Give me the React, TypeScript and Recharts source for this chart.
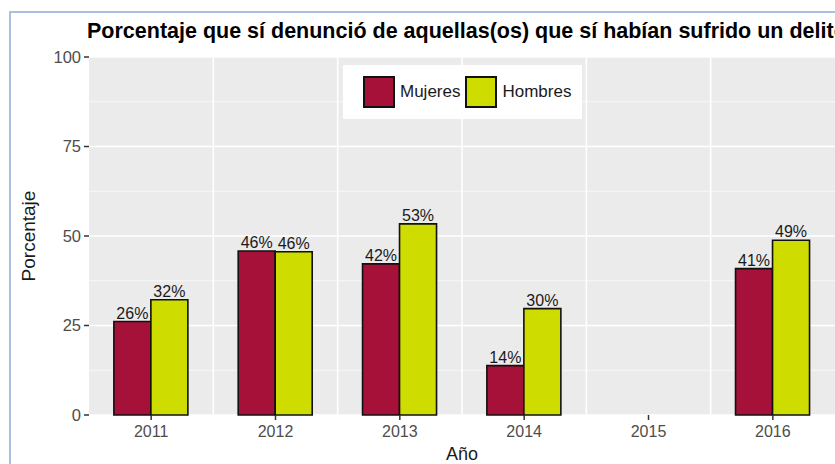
import React from "react";
import {
  BarChart,
  Bar,
  XAxis,
  YAxis,
  CartesianGrid,
  Legend,
  LabelList,
  Label,
} from "recharts";

const years = ["2011", "2012", "2013", "2014", "2015", "2016"];
const mujeres = [26.1, 45.8, 42.2, 13.8, null, 40.9];
const hombres = [32.2, 45.6, 53.4, 29.7, null, 48.8];
const yTicks = [0, 25, 50, 75, 100];
const yMinor = [12.5, 37.5, 62.5, 87.5];
const yMax = 100;

const COLOR_M = "#A51139";
const COLOR_H = "#CFDC00";
const FONT = "'Liberation Sans', Arial, sans-serif";

const data = years.map((year, i) => ({
  year,
  Mujeres: mujeres[i],
  Hombres: hombres[i],
}));

const pct = (v: any) => (v == null ? "" : `${Math.round(Number(v))}%`);

// value -> pixel inside the plot area (linear 0..yMax domain)
const yPos = (offset: any, v: number) => offset.top + offset.height * (1 - v / yMax);

const LegendBox = () => (
  <div
    style={{
      background: "#fff",
      width: 239,
      height: 54,
      boxSizing: "border-box",
      paddingLeft: 20,
      display: "flex",
      alignItems: "center",
      fontFamily: FONT,
      fontSize: 17,
      color: "#1a1a1a",
    }}
  >
    {[
      { name: "Mujeres", color: COLOR_M },
      { name: "Hombres", color: COLOR_H },
    ].map((item) => (
      <div key={item.name} style={{ display: "flex", alignItems: "center" }}>
        <span
          style={{
            width: 32,
            height: 32,
            boxSizing: "border-box",
            background: item.color,
            border: "2px solid #111",
            marginRight: 5,
          }}
        />
        <span style={{ marginRight: 5 }}>{item.name}</span>
      </div>
    ))}
  </div>
);

const App: React.FC = () => {
  return (
    <div style={{ position: "relative", width: 835, height: 464, background: "#fff", overflow: "hidden" }}>
      <style>{"body{margin:0}"}</style>
      {/* light blue frame of the screenshot */}
      <div
        style={{
          position: "absolute",
          left: 9,
          top: 11,
          width: 900,
          height: 500,
          borderLeft: "2px solid #A9C0DE",
          borderTop: "2px solid #A9C0DE",
        }}
      />
      <div
        style={{
          position: "absolute",
          left: 87,
          top: 19,
          lineHeight: "24px",
          whiteSpace: "nowrap",
          fontFamily: FONT,
          fontWeight: "bold",
          fontSize: 21.5,
          color: "#000",
        }}
      >
        Porcentaje que sí denunció de aquellas(os) que sí habían sufrido un delito
      </div>
      <BarChart
        width={835}
        height={464}
        data={data}
        margin={{ top: 57, right: 0, bottom: 9, left: 39 }}
        barCategoryGap="20%"
        barGap={0}
        style={{ position: "absolute", left: 0, top: 0, fontFamily: FONT }}
      >
        <CartesianGrid
          fill="#EBEBEB"
          stroke="#fff"
          strokeWidth={0.7}
          vertical={false}
          horizontalCoordinatesGenerator={({ offset }: any) => yMinor.map((v) => yPos(offset, v))}
        />
        <CartesianGrid
          stroke="#fff"
          strokeWidth={1.6}
          horizontalCoordinatesGenerator={({ offset }: any) => yTicks.map((v) => yPos(offset, v))}
          verticalCoordinatesGenerator={({ offset }: any) =>
            years.slice(1).map((_, i) => offset.left + ((i + 1) * offset.width) / years.length)
          }
        />
        <XAxis
          dataKey="year"
          height={40}
          axisLine={false}
          tickLine={{ stroke: "#333", strokeWidth: 1.5 }}
          tickSize={5}
          tickMargin={6}
          tick={{ fill: "#4D4D4D", fontSize: 16 }}
        >
          <Label value="Año" position="insideBottom" offset={-5} fill="#1a1a1a" fontSize={18} />
        </XAxis>
        <YAxis
          domain={[0, yMax]}
          ticks={yTicks}
          width={50}
          axisLine={false}
          tickLine={{ stroke: "#333", strokeWidth: 1.5 }}
          tickSize={5}
          tickMargin={3}
          tick={{ fill: "#4D4D4D", fontSize: 16.5 }}
        >
          <Label
            value="Porcentaje"
            angle={-90}
            position="insideLeft"
            offset={-11}
            style={{ textAnchor: "middle" }}
            fill="#1a1a1a"
            fontSize={19}
          />
        </YAxis>
        <Legend
          layout="horizontal"
          verticalAlign="middle"
          align="center"
          wrapperStyle={{ left: 343, top: 65, width: 239, height: 54 }}
          content={() => <LegendBox />}
        />
        <Bar dataKey="Mujeres" fill={COLOR_M} stroke="#111" strokeWidth={1.6} isAnimationActive={false}>
          <LabelList dataKey="Mujeres" position="top" offset={3} formatter={pct} fill="#1a1a1a" fontSize={16} />
        </Bar>
        <Bar dataKey="Hombres" fill={COLOR_H} stroke="#111" strokeWidth={1.6} isAnimationActive={false}>
          <LabelList dataKey="Hombres" position="top" offset={3} formatter={pct} fill="#1a1a1a" fontSize={16} />
        </Bar>
      </BarChart>
    </div>
  );
};

export default App;
